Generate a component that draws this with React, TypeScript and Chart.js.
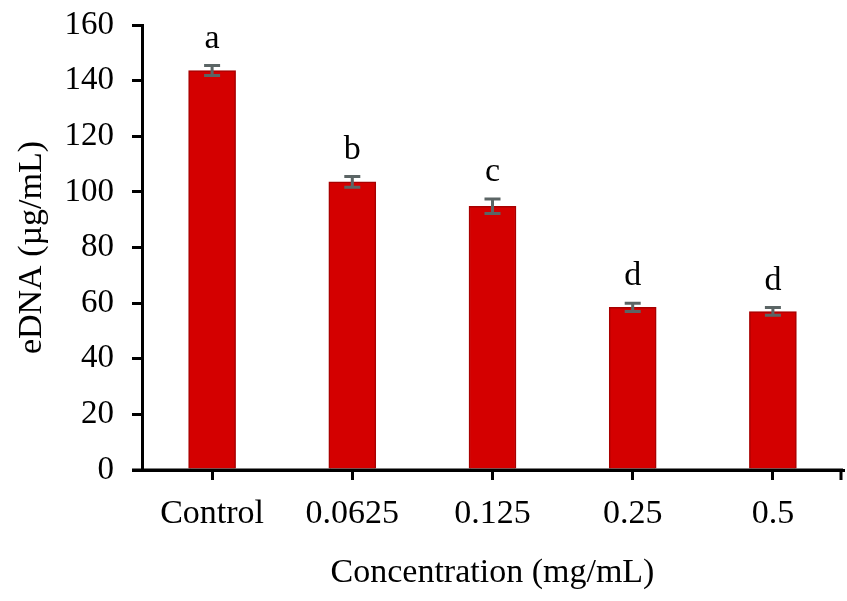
import React, { useEffect, useRef } from "react";
import { Chart, registerables } from "chart.js";

Chart.register(...registerables);

const categories = ["Control", "0.0625", "0.125", "0.25", "0.5"];
const means = [143.6, 103.6, 94.8, 58.5, 57.0];
const errors = [1.8, 1.9, 2.6, 1.5, 1.4];
const letters = ["a", "b", "c", "d", "d"];
const yMin = 0;
const yMax = 160;
const yStep = 20;

const FONT = "'Liberation Serif', 'Times New Roman', serif";

const decorPlugin = {
  id: "decor",
  afterDatasetsDraw(chart: any) {
    const ctx = chart.ctx;
    const meta = chart.getDatasetMeta(0);
    const y = chart.scales.y;
    ctx.save();
    meta.data.forEach((bar: any, i: number) => {
      const x = bar.x;
      const top = y.getPixelForValue(means[i] + errors[i]);
      const bot = y.getPixelForValue(means[i] - errors[i]);
      ctx.strokeStyle = "#5b6565";
      ctx.lineWidth = 3;
      ctx.beginPath();
      ctx.moveTo(x, top);
      ctx.lineTo(x, bot);
      ctx.moveTo(x - 8, top);
      ctx.lineTo(x + 8, top);
      ctx.moveTo(x - 8, bot);
      ctx.lineTo(x + 8, bot);
      ctx.stroke();
      ctx.fillStyle = "#000";
      ctx.font = `34px ${FONT}`;
      ctx.textAlign = "center";
      ctx.textBaseline = "alphabetic";
      ctx.fillText(letters[i], x, top - 18);
    });
    ctx.restore();
  },
  afterDraw(chart: any) {
    const ctx = chart.ctx;
    const a = chart.chartArea;
    ctx.save();
    ctx.strokeStyle = "#000";
    ctx.lineWidth = 3;
    ctx.beginPath();
    ctx.moveTo(a.left - 10, a.bottom);
    ctx.lineTo(a.right, a.bottom);
    ctx.moveTo(a.right - 2, a.bottom);
    ctx.lineTo(a.right - 2, a.bottom + 10);
    ctx.stroke();
    ctx.restore();
  },
};

export default function App() {
  const ref = useRef<HTMLCanvasElement | null>(null);
  useEffect(() => {
    document.body.style.margin = "0";
    if (!ref.current) return;
    const chart = new Chart(ref.current, {
      type: "bar",
      data: {
        labels: categories,
        datasets: [
          {
            data: means,
            backgroundColor: "#d40000",
            borderColor: "#a80000",
            borderWidth: 1.5,
            barThickness: 47,
          },
        ],
      },
      options: {
        responsive: false,
        animation: false,
        devicePixelRatio: 1,
        layout: { padding: { top: 25, right: 4, left: 0, bottom: 0 } },
        plugins: {
          legend: { display: false },
          tooltip: { enabled: false },
        },
        scales: {
          x: {
            afterFit: (s: any) => {
              s.height = 131;
              s.paddingLeft = 0;
              s.paddingRight = 0;
            },
            grid: {
              offset: false,
              drawOnChartArea: false,
              drawTicks: true,
              tickLength: 10,
              tickWidth: 3,
              tickColor: "#000",
              lineWidth: 3,
              color: "#000",
            },
            border: { display: true, color: "#000", width: 3 },
            ticks: {
              color: "#000",
              font: { family: FONT, size: 34 },
              padding: 14,
              maxRotation: 0,
            },
            title: {
              display: true,
              text: "Concentration (mg/mL)",
              color: "#000",
              font: { family: FONT, size: 34 },
              padding: { top: 0, bottom: 8 },
            },
          },
          y: {
            min: yMin,
            max: yMax,
            afterFit: (s: any) => {
              s.width = 142;
              s.paddingTop = 0;
              s.paddingBottom = 0;
            },
            grid: {
              drawOnChartArea: false,
              drawTicks: true,
              tickLength: 10,
              tickWidth: 3,
              tickColor: "#000",
              lineWidth: 3,
              color: "#000",
            },
            border: { display: true, color: "#000", width: 3 },
            ticks: {
              stepSize: yStep,
              color: "#000",
              font: { family: FONT, size: 33 },
              padding: 18,
            },
            title: {
              display: true,
              text: "eDNA (µg/mL)",
              color: "#000",
              font: { family: FONT, size: 34 },
              padding: { top: 12, bottom: 0 },
            },
          },
        },
      },
      plugins: [decorPlugin],
    });
    return () => chart.destroy();
  }, []);
  return (
    <div style={{ width: 847, height: 601, background: "#fff" }}>
      <canvas ref={ref} width={847} height={601} />
    </div>
  );
}
